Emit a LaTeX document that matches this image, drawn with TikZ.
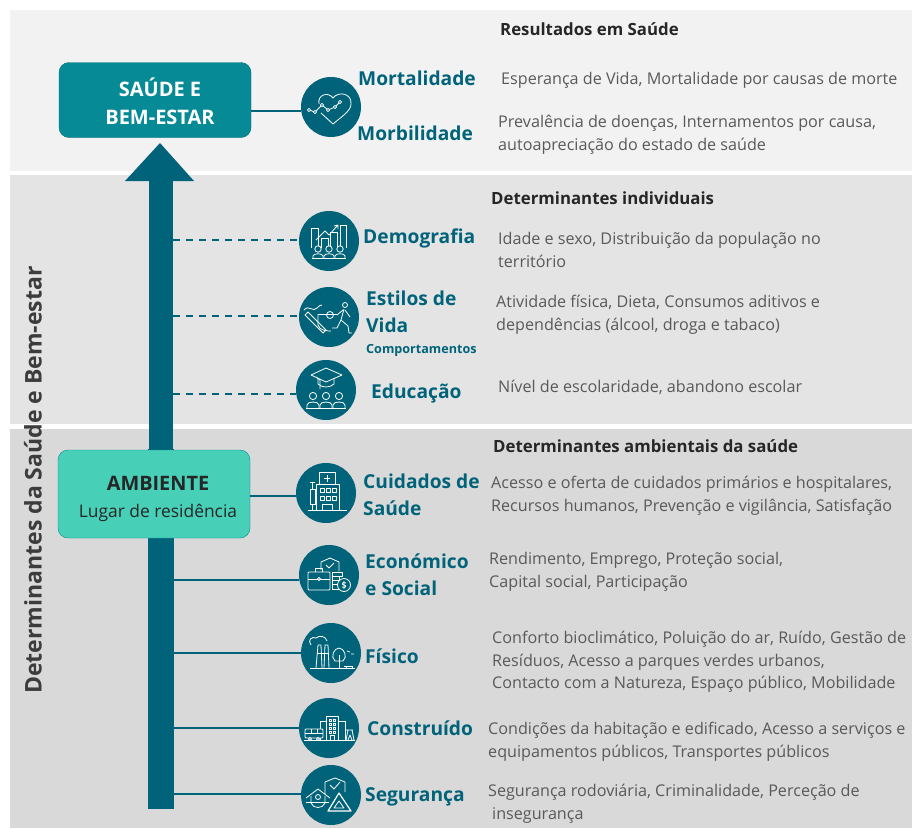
\documentclass[tikz,border=0pt]{standalone}
\usepackage{fontspec}
\setmainfont{Open Sans}
\usetikzlibrary{positioning}
\definecolor{tealdark}{RGB}{0, 99, 122}
\definecolor{tealbox}{RGB}{6, 138, 150}
\definecolor{mintbox}{RGB}{72, 207, 183}
\definecolor{bandone}{RGB}{242, 242, 242}
\definecolor{bandtwo}{RGB}{228, 228, 228}
\definecolor{bandthree}{RGB}{217, 217, 217}
\definecolor{textgrey}{RGB}{89, 89, 89}
\definecolor{textdark}{RGB}{38, 38, 38}

\begin{document}
\begin{tikzpicture}[
        x=1pt, y=-1pt,
        bigbox/.style={rectangle, rounded corners=10pt, minimum width=192pt, inner sep=0pt},
        boxtext/.style={align=center, inner sep=0pt},
        roundico/.style={circle, fill=tealdark, minimum size=60pt, inner sep=0pt},
        stem/.style={rectangle, fill=tealdark, inner sep=0pt},
        link/.style={draw=tealdark, line width=1.6pt},
        dashlink/.style={link, dash pattern=on 7pt off 6pt},
        theme/.style={anchor=west, align=left, inner sep=0pt, text=tealdark, font=\fontsize{19.2}{27}\selectfont\bfseries},
        detail/.style={anchor=west, align=left, inner sep=0pt, text=textgrey, font=\fontsize{16.15}{22.7}\selectfont},
        heading/.style={anchor=west, inner sep=0pt, text=textdark, font=\fontsize{16.8}{20}\selectfont\bfseries},
        glyph/.style={draw=white, line width=0.8pt, line join=round}
    ]
        \useasboundingbox (0, 0) rectangle (912, 828);
        \fill[white] (0, 0) rectangle (912, 828);
        \fill[bandone] (10, 10) rectangle (912, 171);
        \fill[bandtwo] (10, 175) rectangle (912, 424);
        \fill[bandthree] (10, 429) rectangle (912, 828);

        \node[stem, minimum width=24pt, minimum height=270pt] (shaft) at (161, 315) {};
        \node[stem, minimum width=26pt, minimum height=360pt] (trunk) at (161, 629) {};
        \fill[tealdark] (125, 181) -- (160, 143) -- (194, 181) -- cycle;

        \node[bigbox, fill=tealbox, draw=tealbox!80!black, minimum height=75pt] (saude) at (155, 100) {};
        \node[boxtext, text=white, font=\fontsize{20}{28}\selectfont\bfseries] (saudetxt) at (160, 101) {SAÚDE E\\BEM-ESTAR};
        \node[bigbox, fill=mintbox, draw=tealbox, minimum height=88pt] (ambiente) at (154, 494) {};
        \node[boxtext, text=textdark, font=\fontsize{17.4}{27}\selectfont] (ambtxt) at (158, 499) {{\fontsize{19.9}{27}\selectfont\bfseries AMBIENTE}\\Lugar de residência};

        \node[roundico] (vitais) at (331, 107) {};
        \node[roundico] (demog) at (329, 241) {};
        \node[roundico] (estilos) at (329, 317) {};
        \node[roundico] (educ) at (326, 390) {};
        \node[roundico] (cuidados) at (326, 493) {};
        \node[roundico] (ecosoc) at (329, 575) {};
        \node[roundico] (fisico) at (331, 653) {};
        \node[roundico] (construido) at (329, 728) {};
        \node[roundico] (seguranca) at (331, 795) {};

        \draw[link] (saude.east |- vitais.188) -- (vitais.188);
        \draw[dashlink] (shaft.east |- demog.178) -- (demog.178);
        \draw[dashlink] (shaft.east |- estilos.178) -- (estilos.178);
        \draw[dashlink] (shaft.east |- educ.188) -- (educ.188);
        \draw[link] (ambiente.east |- cuidados.186) -- (cuidados.186);
        \draw[link] (trunk.east |- ecosoc.190) -- (ecosoc.190);
        \draw[link] (trunk.east |- fisico.180) -- (fisico.180);
        \draw[link] (trunk.east |- construido.180) -- (construido.180);
        \draw[link] (trunk.east |- seguranca.178) -- (seguranca.178);

        \begin{scope}[shift={(vitais.center)}, glyph]
            \draw (-12, -3) .. controls (-14, -12) and (-3, -16) .. (2, -9) .. controls (7, -16) and (21, -14) .. (20, -3) .. controls (20, 4) and (10, 10) .. (2, 17) -- (-10, 6);
            \draw (-22, 3) -- (-16, 5) -- (-9, -2) -- (-3, 3) -- (4, 0) -- (9, -5);
            \foreach \px/\py in {-22/3, -16/5, -9/-2, -3/3, 4/0, 9/-5}
                \draw[fill=tealdark] (\px, \py) circle (1.6);
        \end{scope}

        \begin{scope}[shift={(demog.center)}, glyph]
            \draw (-18, 7) -- (-18, -13) -- (-11, -13) -- (-11, 7);
            \draw (-8, 7) -- (-8, -3) -- (-1, -3) -- (-1, 7);
            \draw (1, 7) -- (1, -9) -- (8, -9) -- (8, 7);
            \draw (11, 7) -- (11, -16) -- (17, -16) -- (17, 7);
            \draw (-13, -1) -- (-4, -10) -- (0, -6) -- (9, -16) -- (5, -15) (9, -16) -- (9, -12);
            \foreach \px in {-11, 0, 11} {
                \draw[fill=tealdark] (\px, 8) circle (3.2);
                \draw (\px-5, 17) -- (\px-5, 15) .. controls (\px-5, 12) and (\px+5, 12) .. (\px+5, 15) -- (\px+5, 17);
            }
            \draw (-17, 17) -- (17, 17);
        \end{scope}

        \begin{scope}[shift={(estilos.center)}, glyph]
            \draw (-24, -2) -- (-6, 16) -- (-3, 13) -- (-21, -5) -- cycle;
            \draw (-25, -7) .. controls (-20, -13) and (-16, -4) .. (-12, -9) .. controls (-11, -11) and (-8, -12) .. (-7, -12);
            \draw (-11, -3) -- (-11, 8) .. controls (-10, 14) and (0, 14) .. (2, 14);
            \draw (-11, -3) -- (8, -3);
            \draw (1, -2) circle (3.5);
            \draw (16, -12) circle (2.5);
            \draw (15, -8) -- (12, 3) -- (19, 9) -- (20, 16) -- (23, 16);
            \draw (12, 3) -- (8, 11) -- (3, 11);
            \draw (14, -7) -- (8, -2) (16, -7) -- (21, 0);
        \end{scope}

        \begin{scope}[shift={(educ.center)}, glyph]
            \draw (-15, -15) -- (0, -22) -- (16, -15) -- (0, -8) -- cycle;
            \draw (-8, -12) -- (-8, -6) .. controls (-4, -2) and (4, -2) .. (8, -6) -- (8, -12);
            \draw (-10, -13) -- (-6, -10) -- (-6, -1);
            \foreach \px in {-13, 0, 13} {
                \draw[fill=tealdark] (\px, 6) circle (3.6);
                \draw (\px-6, 18) -- (\px-6, 15) .. controls (\px-6, 11) and (\px+6, 11) .. (\px+6, 15) -- (\px+6, 18);
            }
            \draw (-20, 18) -- (20, 18);
        \end{scope}

        \begin{scope}[shift={(cuidados.center)}, glyph]
            \draw (-10, 17) -- (-10, -9) -- (13, -9) -- (13, 17);
            \draw (-7, -9) -- (-7, -21) -- (9, -21) -- (9, -9);
            \draw (1, -18) -- (1, -11) (-2, -14.5) -- (4, -14.5);
            \foreach \px in {-6, 0, 6}
                \foreach \py in {-5, 3}
                    \draw (\px, \py) rectangle +(4, 4);
            \draw (-4, 17) -- (-4, 11) -- (6, 11) -- (6, 17);
            \draw (-16, -4) rectangle (-11, 11);
            \draw (-13.5, 11) -- (-13.5, 17) (-13.5, -4) -- (-13.5, -11) (-16, -11) -- (-11, -11);
            \draw (-18, 17) -- (21, 17);
        \end{scope}

        \begin{scope}[shift={(ecosoc.center)}, glyph]
            \draw (-8, -5) -- (-8, -13) -- (1, -17) -- (10, -13) -- (10, -4);
            \draw (-3, -10) -- (0, -7) -- (5, -12);
            \draw[rounded corners=1pt] (-21, -3) rectangle (1, 15);
            \draw (-21, 4) -- (1, 4);
            \draw (-14, -3) -- (-14, -7) -- (-7, -7) -- (-7, -3);
            \draw[fill=tealdark] (-10, 4) circle (1.5);
            \draw (3, -3) rectangle (13, 1) (3, 1) rectangle (10, 5) (3, 5) rectangle (10, 9) (3, 9) rectangle (10, 14);
            \draw[fill=tealdark] (15, 10) circle (6.5);
            \draw (15, 6) -- (15, 14) (17, 8) .. controls (13, 6) and (12, 10) .. (15, 10) .. controls (18, 10) and (17, 14) .. (13, 12);
        \end{scope}

        \begin{scope}[shift={(fisico.center)}, glyph]
            \draw (-15, 15) -- (-13, -8) -- (-10, -8) -- (-9, 15);
            \draw (-7, 15) -- (-6, -8) -- (-3, -8) -- (-2, 15);
            \draw (-14, 0) -- (-3, 0);
            \draw (-20, -8) .. controls (-24, -13) and (-19, -17) .. (-15, -15) .. controls (-12, -18) and (-5, -17) .. (-4, -12);
            \draw (4, 8) .. controls (-1, 4) and (3, -5) .. (8, -5) .. controls (13, -5) and (17, 4) .. (12, 8) -- cycle;
            \draw (8, 15) -- (8, 2);
            \draw (13, 13) -- (22, 13) (15, 13) -- (15, 15) (21, 13) -- (21, 15);
            \draw (16, -2) -- (19, -1) (20, 1) -- (23, 1);
            \draw (-21, 15) -- (24, 15);
        \end{scope}

        \begin{scope}[shift={(construido.center)}, glyph]
            \draw (-3, 12) -- (-3, -12) -- (9, -12) -- (9, 12);
            \draw (-9, 12) -- (-9, -7) -- (-3, -7);
            \draw (9, -7) -- (16, -7) -- (16, 12);
            \foreach \py in {-9, -5, -1, 3}
                \draw (0, \py) rectangle +(2.5, 2.5) (4, \py) rectangle +(2.5, 2.5);
            \draw (1, 12) -- (1, 7) -- (5, 7) -- (5, 12);
            \draw[rounded corners=1pt, fill=tealdark] (-24, 1) rectangle (-6, 10);
            \draw (-24, 5) -- (-6, 5) (-18, 1) -- (-18, 5) (-12, 1) -- (-12, 5);
            \draw[fill=tealdark] (-19, 11) circle (1.5) (-11, 11) circle (1.5);
            \draw (16, 2) -- (24, 2) (17, 12) -- (19, 2) (23, 2) -- (25, 12) (19, 12) -- (21, 7) -- (23, 12);
            \draw (-25, 12) -- (26, 12);
        \end{scope}

        \begin{scope}[shift={(seguranca.center)}, glyph]
            \draw (-6, -1) -- (-6, -13) -- (4, -17) -- (14, -13) -- (14, -3);
            \draw (-1, -10) -- (3, -6) -- (9, -13);
            \draw (-25, 3) -- (-13, -6) -- (-1, 3);
            \draw (-20, 1) -- (-20, 8) .. controls (-18, 14) and (-8, 14) .. (-6, 8) -- (-6, 1);
            \draw (-25, 7) -- (-2, 7);
            \draw (-13, 2) circle (2.5);
            \draw[line width=1.2pt, fill=tealdark] (-3, 16) -- (8, -2) -- (20, 16) -- cycle;
            \draw (8, 6) -- (3, 13) -- (13, 13) -- cycle;
        \end{scope}

        \node[theme] (mort) at (358, 78) {Mortalidade};
        \node[theme] (morb) at (357, 133) {Morbilidade};
        \node[theme] (demoglbl) at (363, 238) {Demografia};
        \node[theme] (estiloslbl) at (366, 312) {Estilos de\\Vida};
        \node[theme, font=\fontsize{12.6}{14}\selectfont\bfseries] (comport) at (366, 350) {Comportamentos};
        \node[theme] (educlbl) at (371, 394) {Educação};
        \node[theme] (cuidlbl) at (363, 495) {Cuidados de\\Saúde};
        \node[theme] (ecolbl) at (365, 575) {Económico\\e Social};
        \node[theme] (fislbl) at (365, 656) {Físico};
        \node[theme] (conslbl) at (367, 728) {Construído};
        \node[theme] (seglbl) at (365, 797) {Segurança};

        \node[heading] (hresult) at (500, 29) {Resultados em Saúde};
        \node[heading] (hindiv) at (491, 198) {Determinantes individuais};
        \node[heading] (hamb) at (493, 446) {Determinantes ambientais da saúde};

        \node[detail] (d1) at (501, 80) {Esperança de Vida, Mortalidade por causas de morte};
        \node[detail] (d2) at (498, 135) {Prevalência de doenças, Internamentos por causa,\\autoapreciação do estado de saúde};
        \node[detail] (d3) at (498, 250) {Idade e sexo, Distribuição da população no\\território};
        \node[detail] (d4) at (496, 315) {Atividade física, Dieta, Consumos aditivos e\\dependências (álcool, droga e tabaco)};
        \node[detail] (d5) at (498, 387) {Nível de escolaridade, abandono escolar};
        \node[detail] (d6) at (491, 496) {Acesso e oferta de cuidados primários e hospitalares,\\Recursos humanos, Prevenção e vigilância, Satisfação};
        \node[detail] (d7) at (489, 572) {Rendimento, Emprego, Proteção social,\\Capital social, Participação};
        \node[detail] (d8) at (492, 662) {Conforto bioclimático, Poluição do ar, Ruído, Gestão de\\Resíduos, Acesso a parques verdes urbanos,\\Contacto com a Natureza, Espaço público, Mobilidade};
        \node[detail] (d9) at (488, 742) {Condições da habitação e edificado, Acesso a serviços e\\equipamentos públicos, Transportes públicos};
        \node[detail] (d10) at (488, 804) {Segurança rodoviária, Criminalidade, Perceção de\\\hspace*{4pt}insegurança};

        \node[rotate=90, inner sep=0pt, text=textdark!90!white, font=\fontsize{23}{26}\selectfont\bfseries] (eixo) at (33, 480) {Determinantes da Saúde e Bem-estar};
    \end{tikzpicture}
\end{document}
